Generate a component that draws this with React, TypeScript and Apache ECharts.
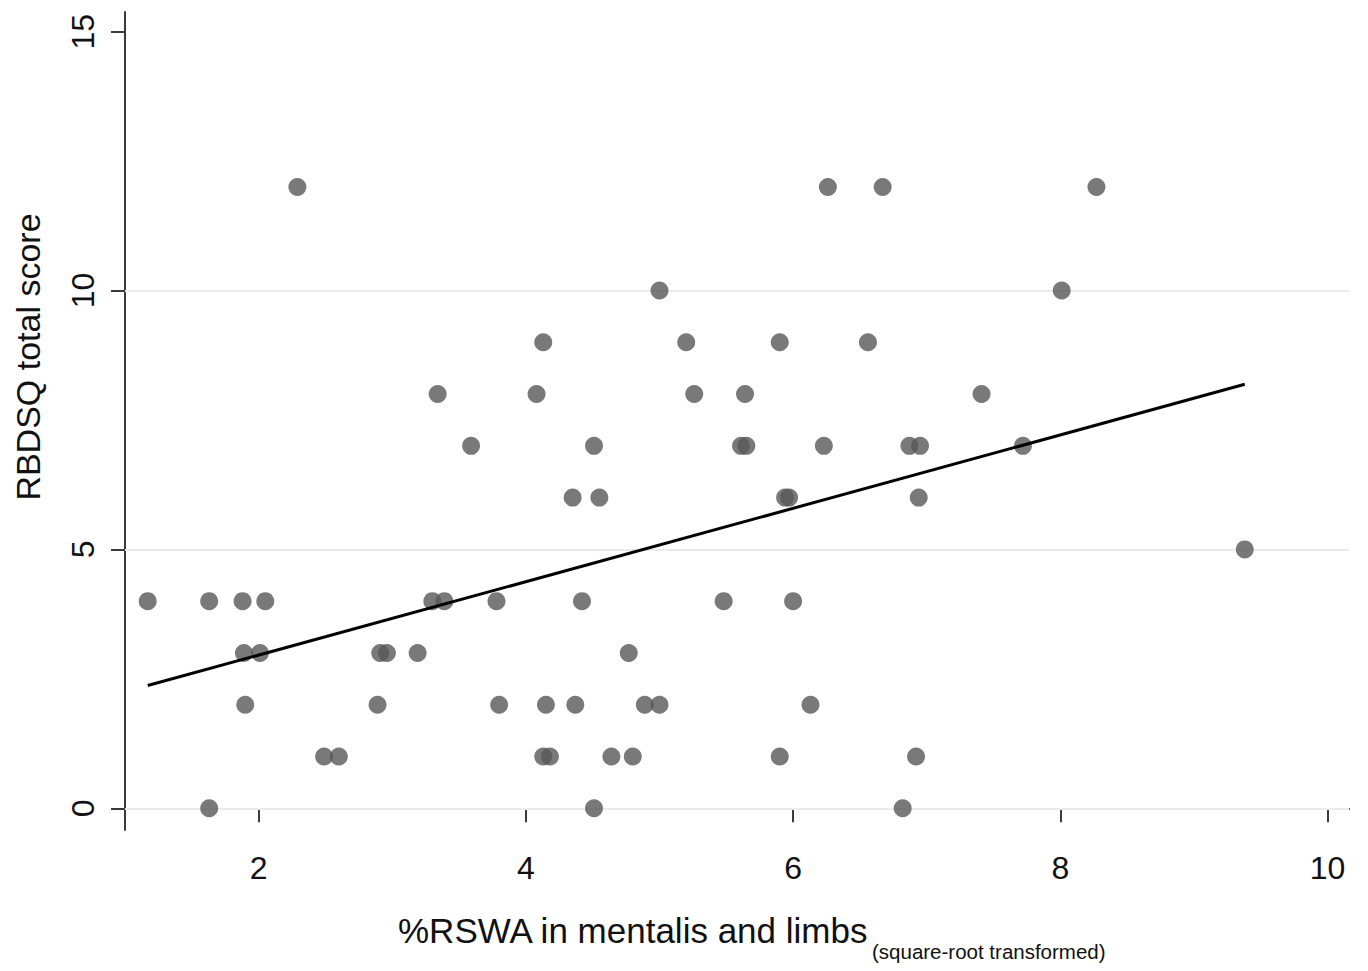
import React, { useEffect, useRef } from "react";
import * as echarts from "echarts";

// %RSWA (square-root transformed) values, grouped by RBDSQ score row
const xValues: number[] = [
  2.29, 6.26, 6.67, 8.27,
  5.0, 8.01,
  4.13, 5.2, 5.9, 6.56,
  3.34, 4.08, 5.26, 5.64, 7.41,
  3.59, 4.51, 5.61, 5.65, 6.23, 6.87, 6.95, 7.72,
  4.35, 4.55, 5.94, 5.97, 6.94,
  9.38,
  1.17, 1.63, 1.88, 2.05, 3.3, 3.39, 3.78, 4.42, 5.48, 6.0,
  1.89, 2.01, 2.91, 2.96, 3.19, 4.77,
  1.9, 2.89, 3.8, 4.15, 4.37, 4.89, 5.0, 6.13,
  2.49, 2.6, 4.13, 4.18, 4.64, 4.8, 5.9, 6.92,
  1.63, 4.51, 6.82,
];
const yValues: number[] = [
  12, 12, 12, 12,
  10, 10,
  9, 9, 9, 9,
  8, 8, 8, 8, 8,
  7, 7, 7, 7, 7, 7, 7, 7,
  6, 6, 6, 6, 6,
  5,
  4, 4, 4, 4, 4, 4, 4, 4, 4, 4,
  3, 3, 3, 3, 3, 3,
  2, 2, 2, 2, 2, 2, 2, 2,
  1, 1, 1, 1, 1, 1, 1, 1,
  0, 0, 0,
];

// fitted regression line end points
const fitX: number[] = [1.17, 9.38];
const fitY: number[] = [2.37, 8.19];

const xTicks: number[] = [2, 4, 6, 8, 10];
const yTicks: number[] = [0, 5, 10, 15];
const gridValues: number[] = [0, 5, 10];

const xTitle = "%RSWA in mentalis and limbs";
const xSubTitle = "(square-root transformed)";
const yTitle = "RBDSQ total score";

const FONT = '"Liberation Sans", Arial, Helvetica, sans-serif';

export default function App() {
  const ref = useRef<HTMLDivElement>(null);

  useEffect(() => {
    if (!ref.current) return;
    const chart = echarts.init(ref.current, undefined, { renderer: "svg" });
    const points = xValues.map((x, i) => [x, yValues[i]]);
    const fit = fitX.map((x, i) => [x, fitY[i]]);

    chart.setOption({
      animation: false,
      backgroundColor: "#ffffff",
      grid: {
        left: 125,
        top: 12,
        right: 19,
        bottom: 141,
        containLabel: false,
        outerBoundsMode: "none",
      },
      xAxis: {
        type: "value",
        min: 1.0,
        max: 10.16,
        axisLine: { show: true, lineStyle: { color: "#3a3a3a", width: 2 } },
        axisTick: {
          show: true,
          customValues: xTicks,
          length: 14,
          lineStyle: { color: "#3a3a3a", width: 2 },
        },
        axisLabel: {
          customValues: xTicks,
          fontSize: 32,
          fontFamily: FONT,
          color: "#111111",
          margin: 22,
        },
        splitLine: { show: false },
      },
      yAxis: {
        type: "value",
        min: -0.42,
        max: 15.38,
        axisLine: { show: true, lineStyle: { color: "#3a3a3a", width: 2 } },
        axisTick: {
          show: true,
          customValues: yTicks,
          length: 14,
          lineStyle: { color: "#3a3a3a", width: 2 },
        },
        axisLabel: {
          customValues: yTicks,
          rotate: 90,
          fontSize: 32,
          fontFamily: FONT,
          color: "#111111",
          margin: 26,
        },
        splitLine: { show: false },
      },
      series: [
        {
          type: "scatter",
          data: points,
          symbol: "circle",
          symbolSize: 18,
          itemStyle: { color: "#575757" },
          emphasis: { disabled: true },
          z: 3,
          markLine: {
            silent: true,
            z: 1,
            symbol: ["none", "none"],
            label: { show: false },
            lineStyle: { color: "#ebebeb", width: 2, type: "solid" },
            emphasis: { disabled: true },
            data: gridValues.map((v) => ({ yAxis: v })),
          },
        },
        {
          type: "line",
          data: fit,
          showSymbol: false,
          symbol: "none",
          lineStyle: { color: "#000000", width: 3 },
          emphasis: { disabled: true },
          z: 4,
        },
      ],
      graphic: [
        {
          type: "text",
          x: 28,
          y: 357,
          rotation: Math.PI / 2,
          style: {
            text: yTitle,
            fontSize: 34,
            fontFamily: FONT,
            fill: "#111111",
            textAlign: "center",
            textVerticalAlign: "middle",
          },
        },
        {
          type: "text",
          x: 398,
          y: 930,
          style: {
            text: xTitle,
            fontSize: 35,
            fontFamily: FONT,
            fill: "#111111",
            textAlign: "left",
            textVerticalAlign: "middle",
          },
        },
        {
          type: "text",
          x: 872,
          y: 951,
          style: {
            text: xSubTitle,
            fontSize: 20.5,
            fontFamily: FONT,
            fill: "#111111",
            textAlign: "left",
            textVerticalAlign: "middle",
          },
        },
      ],
    });

    return () => chart.dispose();
  }, []);

  return (
    <div
      ref={ref}
      style={{
        position: "fixed",
        left: 0,
        top: 0,
        width: 1368,
        height: 971,
        background: "#ffffff",
      }}
    />
  );
}
